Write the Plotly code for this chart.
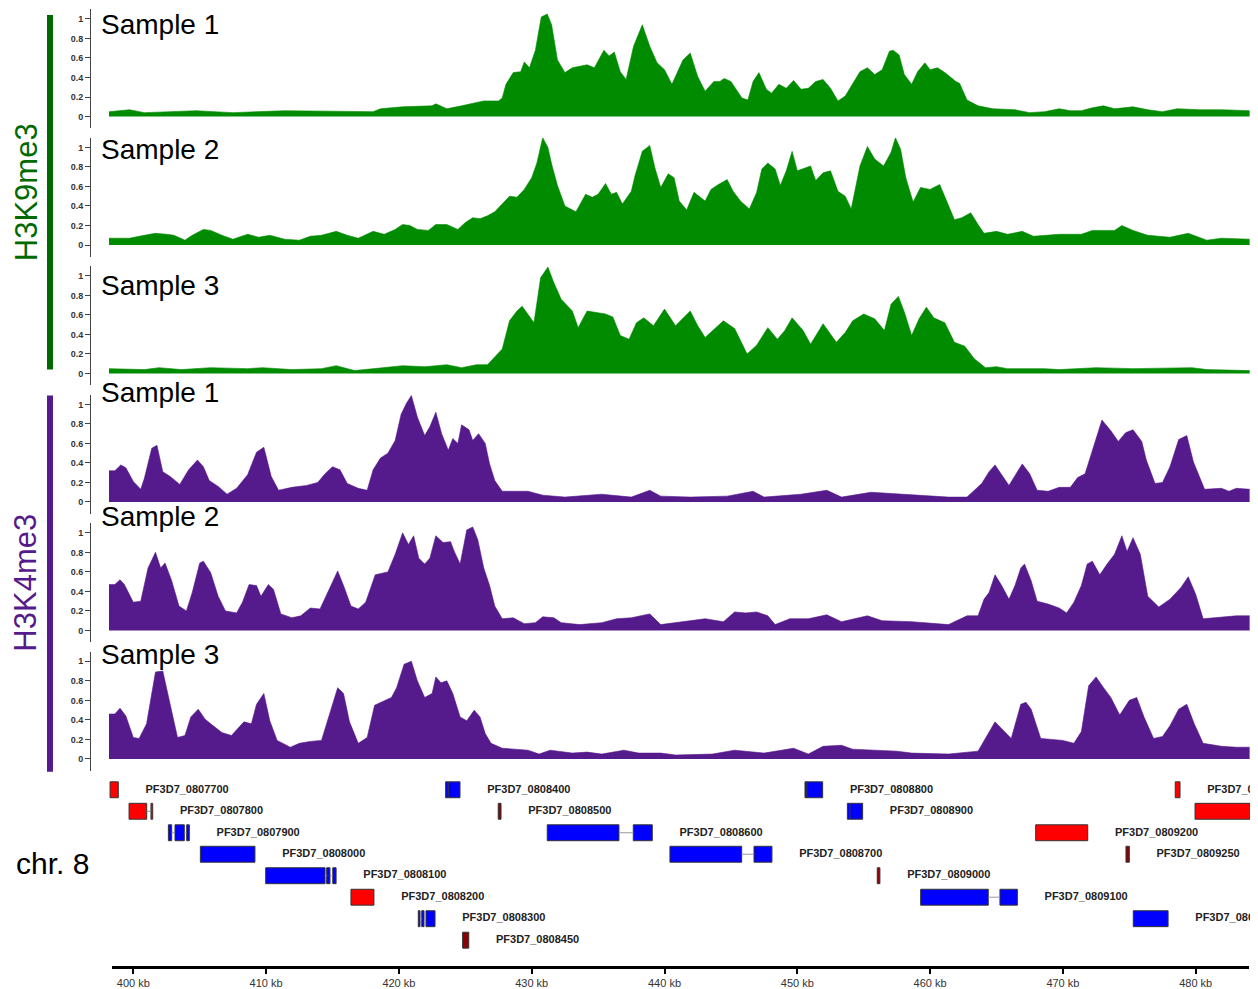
import plotly.graph_objects as go

# ---------------- data (genomic position in kb, normalised signal) ----------------
k9_s1 = [(398.17,0.05),(399.72,0.07),(400.83,0.04),(404.72,0.06),(407.5,0.04),(411.39,0.06),(418.06,0.05),(418.61,0.08),
 (420.28,0.10),(422.5,0.11),(422.78,0.13),(423.61,0.08),(424.72,0.11),(426.39,0.16),(427.5,0.16),(427.78,0.19),(428.06,0.33),
 (428.61,0.45),(429.17,0.46),(429.44,0.56),(429.83,0.50),(430.28,0.68),(430.72,1.02),(431.17,1.05),(431.5,0.94),(431.94,0.58),
 (432.5,0.45),(433.06,0.50),(434.17,0.53),(434.72,0.50),(435.44,0.68),(435.83,0.62),(436.22,0.66),(436.67,0.46),(437.11,0.38),
 (437.67,0.72),(438.33,0.94),(438.89,0.72),(439.44,0.55),(440.0,0.48),(440.56,0.33),(441.39,0.58),(441.94,0.65),(442.5,0.41),
 (443.06,0.26),(443.72,0.36),(444.17,0.36),(444.5,0.39),(445.0,0.36),(445.83,0.19),(446.28,0.17),(446.67,0.36),(447.11,0.45),
 (447.67,0.28),(448.06,0.24),(448.61,0.33),(449.17,0.29),(449.72,0.37),(450.28,0.28),(450.83,0.29),(451.39,0.36),(451.94,0.38),
 (452.5,0.29),(453.06,0.16),(453.61,0.21),(454.17,0.33),(454.72,0.46),(455.28,0.50),(455.83,0.43),(456.39,0.48),(456.94,0.67),
 (457.22,0.68),(457.67,0.63),(458.06,0.43),(458.61,0.33),(459.06,0.46),(459.61,0.55),(460.0,0.48),(460.56,0.50),(461.11,0.45),
 (461.94,0.36),(462.22,0.34),(462.78,0.17),(463.61,0.11),(464.72,0.08),(466.39,0.07),(467.5,0.04),(468.61,0.05),(469.72,0.08),
 (470.56,0.06),(471.39,0.06),(472.22,0.09),(473.06,0.11),(473.89,0.08),(475.28,0.10),(476.39,0.07),(477.5,0.05),(478.61,0.08),
 (480.28,0.07),(481.94,0.07),(484.06,0.06)]

k9_s2 = [(398.17,0.07),(399.72,0.07),(400.83,0.10),(401.67,0.12),(402.5,0.11),(403.06,0.10),(403.89,0.05),(404.44,0.10),
 (405.28,0.16),(405.83,0.15),(406.67,0.10),(407.5,0.06),(408.61,0.11),(409.44,0.08),(410.28,0.10),(411.39,0.06),(412.5,0.05),
 (413.33,0.09),(414.17,0.10),(415.28,0.14),(416.11,0.10),(416.94,0.07),(418.06,0.14),(418.89,0.11),(419.72,0.16),(420.28,0.21),
 (420.83,0.20),(421.39,0.16),(422.22,0.15),(422.78,0.21),(423.61,0.21),(424.44,0.16),(425.0,0.23),(425.56,0.28),(426.11,0.27),
 (426.67,0.30),(427.22,0.34),(427.78,0.42),(428.33,0.50),(428.89,0.49),(429.44,0.57),(430.0,0.69),(430.39,0.84),(430.83,1.10),
 (431.22,1.0),(431.5,0.83),(431.94,0.61),(432.5,0.40),(433.33,0.34),(434.06,0.52),(434.56,0.49),(435.0,0.52),(435.56,0.63),
 (436.0,0.52),(436.39,0.54),(436.83,0.42),(437.5,0.55),(437.78,0.71),(438.33,0.96),(438.89,1.02),(439.28,0.79),(439.72,0.59),
 (440.28,0.73),(440.72,0.69),(441.11,0.45),(441.67,0.36),(442.22,0.54),(443.06,0.45),(443.5,0.57),(444.06,0.62),(444.72,0.67),
 (445.17,0.55),(445.72,0.45),(446.39,0.37),(446.94,0.54),(447.33,0.78),(447.78,0.84),(448.33,0.78),(448.72,0.61),(449.17,0.76),
 (449.61,0.96),(450.0,0.76),(450.56,0.79),(451.0,0.81),(451.39,0.66),(451.94,0.74),(452.5,0.76),(453.06,0.55),(453.61,0.50),
 (454.06,0.37),(454.72,0.81),(455.28,1.01),(455.83,0.88),(456.5,0.81),(457.06,0.95),(457.39,1.10),(457.78,0.98),(458.17,0.69),
 (458.72,0.44),(459.28,0.59),(460.0,0.57),(460.72,0.62),(461.28,0.44),(461.83,0.26),(462.39,0.28),(463.06,0.33),(463.61,0.21),
 (464.06,0.12),(465.0,0.14),(465.83,0.11),(466.94,0.14),(467.78,0.09),(469.72,0.11),(471.39,0.11),(472.22,0.15),(473.89,0.15),
 (474.44,0.20),(475.28,0.15),(476.39,0.10),(478.06,0.08),(479.44,0.12),(480.83,0.05),(481.94,0.07),(484.06,0.06)]

k9_s3 = [(398.17,0.05),(400.83,0.04),(401.94,0.06),(403.61,0.04),(405.83,0.06),(408.61,0.05),(409.72,0.06),(411.94,0.04),
 (414.17,0.05),(415.28,0.08),(416.67,0.03),(418.61,0.06),(420.28,0.08),(421.94,0.07),(423.61,0.09),(424.72,0.06),(425.83,0.09),
 (426.67,0.09),(427.22,0.17),(427.78,0.25),(428.33,0.54),(428.89,0.64),(429.28,0.69),(429.72,0.61),(430.17,0.52),(430.67,0.98),
 (431.22,1.09),(431.67,0.93),(432.22,0.76),(433.06,0.64),(433.5,0.47),(434.17,0.64),(435.0,0.62),(435.56,0.61),(436.11,0.58),
 (436.67,0.39),(437.33,0.35),(437.89,0.52),(438.44,0.57),(439.17,0.49),(440.0,0.66),(440.83,0.49),(441.94,0.64),(442.5,0.49),
 (443.06,0.37),(443.89,0.47),(444.44,0.54),(445.28,0.46),(446.22,0.20),(446.94,0.29),(447.78,0.47),(448.5,0.35),(449.06,0.44),
 (449.61,0.57),(450.44,0.44),(451.0,0.30),(451.94,0.51),(452.94,0.32),(453.61,0.42),(454.17,0.54),(455.0,0.61),(455.83,0.56),
 (456.56,0.44),(457.06,0.71),(457.61,0.79),(458.06,0.63),(458.61,0.39),(459.17,0.56),(459.72,0.68),(460.28,0.57),(461.11,0.52),
 (461.83,0.32),(462.61,0.28),(463.33,0.15),(464.17,0.06),(465.0,0.07),(465.83,0.05),(468.61,0.05),(469.72,0.04),(472.5,0.06),
 (475.28,0.05),(479.72,0.06),(480.83,0.04),(484.06,0.03)]

k4_s1 = [(398.17,0.32),(398.61,0.32),(399.06,0.38),(399.44,0.35),(400.0,0.21),(400.56,0.13),(400.83,0.24),(401.39,0.55),
 (401.78,0.58),(402.22,0.31),(402.78,0.26),(403.5,0.18),(404.17,0.33),(404.83,0.43),(405.28,0.36),(405.72,0.22),(406.39,0.16),
 (407.06,0.08),(407.78,0.14),(408.61,0.28),(409.28,0.51),(409.83,0.56),(410.39,0.26),(410.94,0.12),(411.94,0.15),(413.06,0.17),
 (413.89,0.20),(414.44,0.29),(415.0,0.36),(415.56,0.33),(416.11,0.19),(416.94,0.14),(417.61,0.12),(418.06,0.33),(418.61,0.45),
 (419.17,0.50),(419.72,0.63),(420.17,0.90),(420.56,1.01),(420.94,1.09),(421.39,0.87),(421.94,0.68),(422.33,0.77),(422.78,0.92),
 (423.22,0.70),(423.72,0.53),(424.06,0.65),(424.44,0.60),(424.72,0.79),(425.28,0.74),(425.56,0.63),(426.0,0.70),(426.5,0.60),
 (426.83,0.39),(427.22,0.22),(427.78,0.11),(429.72,0.11),(430.83,0.07),(432.5,0.05),(435.28,0.08),(437.5,0.05),(438.89,0.12),
 (439.72,0.06),(441.94,0.05),(444.72,0.06),(446.67,0.11),(447.5,0.05),(450.28,0.08),(452.22,0.12),(453.33,0.05),(455.56,0.10),
 (458.61,0.07),(461.39,0.05),(462.78,0.05),(463.89,0.19),(464.44,0.31),(464.89,0.38),(465.39,0.28),(465.94,0.17),(466.39,0.27),
 (466.94,0.39),(467.5,0.29),(468.06,0.12),(468.89,0.11),(469.72,0.15),(470.56,0.15),(471.11,0.25),(471.67,0.29),(472.22,0.53),
 (472.94,0.84),(473.61,0.73),(474.17,0.62),(474.72,0.71),(475.28,0.74),(475.94,0.62),(476.28,0.43),(476.94,0.19),(477.5,0.20),
 (478.06,0.36),(478.72,0.64),(479.33,0.68),(479.83,0.41),(480.67,0.13),(481.94,0.14),(482.5,0.11),(483.06,0.14),(484.06,0.13)]

k4_s2 = [(398.17,0.47),(398.61,0.47),(399.0,0.52),(399.33,0.47),(400.0,0.29),(400.56,0.30),(401.11,0.64),(401.67,0.80),
 (402.06,0.64),(402.39,0.69),(402.89,0.51),(403.44,0.25),(404.0,0.20),(404.44,0.39),(405.0,0.69),(405.28,0.71),(405.83,0.59),
 (406.39,0.35),(406.94,0.20),(407.78,0.18),(408.22,0.29),(408.72,0.47),(409.28,0.46),(409.61,0.35),(410.17,0.47),(410.56,0.42),
 (411.11,0.17),(411.94,0.13),(412.61,0.15),(413.33,0.23),(414.06,0.22),(414.56,0.37),(415.0,0.49),(415.39,0.61),(415.83,0.46),
 (416.39,0.25),(416.94,0.22),(417.5,0.29),(418.22,0.57),(419.17,0.60),(419.72,0.78),(420.28,1.0),(420.72,0.88),(421.11,0.97),
 (421.5,0.74),(421.94,0.68),(422.33,0.74),(422.78,0.97),(423.33,0.90),(423.89,0.91),(424.17,0.81),(424.61,0.68),(425.11,1.03),
 (425.56,1.06),(425.94,0.93),(426.39,0.64),(426.83,0.46),(427.22,0.25),(427.78,0.12),(428.61,0.13),(429.44,0.07),(430.28,0.08),
 (430.83,0.14),(431.67,0.13),(432.22,0.08),(433.61,0.06),(435.28,0.08),(436.39,0.12),(437.5,0.13),(438.89,0.17),(439.72,0.06),
 (441.39,0.09),(443.06,0.12),(444.44,0.09),(445.28,0.19),(446.11,0.18),(446.94,0.19),(447.78,0.15),(448.33,0.06),(449.44,0.12),
 (450.83,0.12),(452.22,0.16),(453.33,0.09),(455.28,0.15),(456.39,0.10),(458.61,0.09),(459.72,0.08),(461.39,0.06),(462.78,0.15),
 (463.61,0.15),(464.06,0.32),(464.44,0.39),(464.89,0.57),(465.39,0.46),(465.94,0.32),(466.39,0.46),(466.83,0.64),(467.11,0.68),
 (467.61,0.51),(468.06,0.30),(468.89,0.27),(469.72,0.23),(470.28,0.18),(470.83,0.29),(471.39,0.46),(471.83,0.68),(472.22,0.71),
 (472.78,0.57),(473.33,0.68),(473.89,0.78),(474.44,0.97),(474.83,0.81),(475.28,0.95),(475.83,0.78),(476.39,0.35),(477.22,0.24),
 (478.06,0.32),(478.89,0.44),(479.44,0.55),(480.0,0.37),(480.56,0.12),(481.39,0.13),(481.94,0.14),(483.06,0.15),(484.06,0.15)]

k4_s3 = [(398.17,0.46),(398.61,0.46),(399.0,0.52),(399.44,0.44),(400.0,0.22),(400.44,0.21),(401.0,0.36),(401.67,0.89),
 (402.22,0.90),(402.78,0.55),(403.33,0.22),(403.89,0.24),(404.33,0.43),(404.89,0.51),(405.39,0.41),(405.83,0.36),(406.67,0.27),
 (407.39,0.24),(408.33,0.38),(408.89,0.36),(409.28,0.56),(409.83,0.67),(410.28,0.39),(410.83,0.19),(411.83,0.12),(412.5,0.16),
 (413.33,0.18),(414.17,0.19),(414.61,0.39),(415.39,0.73),(415.83,0.67),(416.28,0.38),(416.94,0.16),(417.61,0.22),(418.17,0.55),
 (418.89,0.60),(419.44,0.63),(419.83,0.73),(420.39,0.97),(420.94,1.0),(421.39,0.80),(421.94,0.63),(422.5,0.67),(422.78,0.84),
 (423.17,0.78),(423.61,0.80),(424.06,0.67),(424.61,0.43),(425.11,0.39),(425.67,0.50),(426.11,0.43),(426.5,0.26),(426.94,0.16),
 (427.78,0.11),(429.72,0.09),(430.56,0.05),(431.39,0.09),(433.06,0.06),(434.17,0.07),(435.28,0.05),(436.94,0.09),(438.06,0.06),
 (439.72,0.06),(440.83,0.04),(443.61,0.05),(445.28,0.09),(447.5,0.06),(449.72,0.11),(450.83,0.05),(451.94,0.13),(453.33,0.14),
 (454.17,0.10),(455.83,0.09),(457.5,0.08),(458.61,0.06),(461.39,0.05),(463.61,0.08),(464.17,0.21),(464.89,0.38),(465.39,0.31),
 (466.11,0.21),(466.83,0.56),(467.22,0.58),(467.61,0.51),(468.33,0.21),(469.17,0.20),(470.0,0.19),(470.83,0.16),(471.39,0.28),
 (471.94,0.75),(472.5,0.84),(473.06,0.73),(473.61,0.63),(474.28,0.45),(475.0,0.60),(475.56,0.63),(476.11,0.43),(476.83,0.21),
 (477.5,0.23),(478.06,0.34),(478.72,0.51),(479.33,0.56),(479.89,0.36),(480.56,0.16),(481.94,0.13),(483.06,0.12),(484.06,0.12)]

track_labels = ["Sample 1", "Sample 2", "Sample 3", "Sample 1", "Sample 2", "Sample 3"]
mark_names = ["H3K9me3", "H3K4me3"]

gene_names = ["PF3D7_0807700", "PF3D7_0808400", "PF3D7_0808800", "PF3D7_0809400",
              "PF3D7_0807800", "PF3D7_0808500", "PF3D7_0808900", "PF3D7_0809500",
              "PF3D7_0807900", "PF3D7_0808600", "PF3D7_0809200",
              "PF3D7_0808000", "PF3D7_0808700", "PF3D7_0809250",
              "PF3D7_0808100", "PF3D7_0809000",
              "PF3D7_0808200", "PF3D7_0809100",
              "PF3D7_0808300", "PF3D7_0809300",
              "PF3D7_0808450"]
gene_rows = [1, 1, 1, 1, 2, 2, 2, 2, 3, 3, 3, 4, 4, 4, 5, 5, 6, 6, 7, 7, 8]
gene_types = ["red", "blue", "blue", "red", "red", "dark", "blue", "red", "blue", "blue", "red",
              "blue", "blue", "dark", "blue", "dark", "red", "blue", "blue", "blue", "dark"]
gene_exons = [
    [(398.25, 398.87)],
    [(423.52, 423.72), (423.72, 424.60)],
    [(450.58, 450.73), (450.73, 451.91)],
    [(478.46, 478.82)],
    [(399.68, 401.01), (401.33, 401.46)],
    [(427.48, 427.69)],
    [(453.77, 453.97), (453.97, 454.92)],
    [(479.95, 486.00)],
    [(402.64, 402.89), (403.14, 403.84), (404.02, 404.22)],
    [(431.17, 436.57), (437.65, 439.08)],
    [(467.95, 471.87)],
    [(405.05, 409.16)],
    [(440.41, 445.81), (446.74, 448.09)],
    [(474.75, 475.00)],
    [(409.97, 414.44), (414.56, 414.81), (415.02, 415.27)],
    [(456.02, 456.22)],
    [(416.39, 418.12)],
    [(459.29, 464.38), (465.26, 466.57)],
    [(421.46, 421.59), (421.72, 421.89), (422.04, 422.72)],
    [(475.30, 477.92)],
    [(424.80, 425.26)],
]
axis_ticks_kb = [400, 410, 420, 430, 440, 450, 460, 470, 480]
signal_ticks = [0, 0.2, 0.4, 0.6, 0.8, 1]

# ---------------- styling / layout ----------------
W, H = 1258, 989
FONT = "Liberation Sans, Arial, sans-serif"
GREEN_FILL, GREEN_DARK = "#008b00", "#006a00"
PURPLE_FILL, PURPLE_DARK = "#551a8b", "#551a8b"
gene_colors = {"red": "#ff0000", "blue": "#0000ff", "dark": "#8b0000"}

def fx(p):
    return p / W

def fy(p):
    return 1 - p / H

PX_PER_KB = 13.28
KB0_PX = 133.3          # pixel of 400 kb
def kb_at(p):
    return 400 + (p - KB0_PX) / PX_PER_KB

fig = go.Figure()
tracks = [k9_s1, k9_s2, k9_s3, k4_s1, k4_s2, k4_s3]
fills = [GREEN_FILL] * 3 + [PURPLE_FILL] * 3
label_y = [25, 150, 287, 394, 519, 657]

layout = dict(
    width=W, height=H, margin=dict(l=0, r=0, t=0, b=0),
    paper_bgcolor="white", plot_bgcolor="white", showlegend=False,
    barmode="overlay",
    xaxis=dict(domain=[fx(91), fx(1250)], range=[kb_at(91), kb_at(1250)], visible=False,
               fixedrange=True),
)

for k, (tr, col) in enumerate(zip(tracks, fills)):
    xs = [p[0] for p in tr]
    ys = [p[1] for p in tr]
    yname = "y" if k == 0 else f"y{k+1}"
    fig.add_trace(go.Scatter(x=xs, y=ys, mode="lines", fill="tozeroy", fillcolor=col,
                             line=dict(color=col, width=0.6), xaxis="x", yaxis=yname,
                             hoverinfo="skip"))
    top = 9.2 + 129 * k
    bot = 128.8 + 129 * k
    layout["yaxis" if k == 0 else f"yaxis{k+1}"] = dict(
        domain=[fy(bot), fy(top)], range=[-0.12, 1.1], anchor="x",
        showline=True, linecolor="#444", linewidth=1, ticks="outside", ticklen=5,
        tickcolor="#444", tickwidth=1, tickvals=signal_ticks,
        ticktext=[("%g" % v) for v in signal_ticks],
        tickfont=dict(size=9, color="#333", family=FONT, weight="bold"),
        showgrid=False, zeroline=False, fixedrange=True)

# ---------------- genes ----------------
bar_y, bar_base, bar_len, bar_col = [], [], [], []
intron_x, intron_y = [], []
lab_x, lab_y = [], []
for name, row, typ, ex in zip(gene_names, gene_rows, gene_types, gene_exons):
    for s, e in ex:
        bar_y.append(row)
        bar_base.append(s)
        bar_len.append(e - s)
        bar_col.append(gene_colors[typ])
    for (s1, e1), (s2, e2) in zip(ex[:-1], ex[1:]):
        if s2 > e1:
            intron_x += [e1, s2, None]
            intron_y += [row, row, None]
    lab_x.append(ex[-1][1] + 2.05)
    lab_y.append(row)

fig.add_trace(go.Scatter(x=intron_x, y=intron_y, mode="lines", line=dict(color="#999", width=1),
                         xaxis="x", yaxis="y7", hoverinfo="skip"))
fig.add_trace(go.Bar(y=bar_y, x=bar_len, base=bar_base, orientation="h", width=0.74,
                     marker=dict(color=bar_col, line=dict(color="#333", width=1)),
                     xaxis="x", yaxis="y7", hoverinfo="skip"))
fig.add_trace(go.Scatter(x=lab_x, y=lab_y, mode="text", text=gene_names,
                         textposition="middle right",
                         textfont=dict(size=11, color="#222", family=FONT, weight="bold"),
                         xaxis="x", yaxis="y7", hoverinfo="skip", cliponaxis=True))
layout["yaxis7"] = dict(domain=[fy(954.8), fy(782.2)], range=[8.5, 0.5], anchor="x",
                        visible=False, fixedrange=True)

# ---------------- genome axis ----------------
fig.add_trace(go.Scatter(x=[axis_ticks_kb[0]], y=[0], mode="markers", marker=dict(opacity=0),
                         xaxis="x2", yaxis="y8", hoverinfo="skip"))
layout["xaxis2"] = dict(domain=[fx(112), fx(1249)], range=[kb_at(112), kb_at(1249)], anchor="y8",
                        showline=True, linecolor="black", linewidth=3, ticks="outside",
                        ticklen=5, tickwidth=1.5, tickcolor="black", tickvals=axis_ticks_kb,
                        ticktext=[f"{v} kb" for v in axis_ticks_kb],
                        tickfont=dict(size=11, color="#333", family=FONT),
                        showgrid=False, zeroline=False, fixedrange=True)
layout["yaxis8"] = dict(domain=[fy(970), fy(960)], visible=False, fixedrange=True)

annotations = []
for k, txt in enumerate(track_labels):
    annotations.append(dict(x=fx(99), y=fy(label_y[k]), xref="paper", yref="paper", text=txt,
                            showarrow=False, xanchor="left", yanchor="middle",
                            font=dict(size=28, color="black", family=FONT)))
annotations.append(dict(x=fx(26), y=fy(193), xref="paper", yref="paper", text=mark_names[0],
                        textangle=-90, showarrow=False, xanchor="center", yanchor="middle",
                        font=dict(size=31, color=GREEN_DARK, family=FONT)))
annotations.append(dict(x=fx(26), y=fy(585), xref="paper", yref="paper", text=mark_names[1],
                        textangle=-90, showarrow=False, xanchor="center", yanchor="middle",
                        font=dict(size=31, color=PURPLE_DARK, family=FONT)))
annotations.append(dict(x=fx(14), y=fy(867), xref="paper", yref="paper", text="chr. 8",
                        showarrow=False, xanchor="left", yanchor="middle",
                        font=dict(size=30, color="black", family=FONT)))
annotations.append(dict(x=kb_at(1252), y=fy(970), xref="x2", yref="paper", text="",
                        showarrow=True, ax=-8, ay=0, arrowhead=2, arrowsize=0.8,
                        arrowwidth=2, arrowcolor="black"))
layout["annotations"] = annotations
layout["shapes"] = [
    dict(type="rect", xref="paper", yref="paper", x0=fx(47), x1=fx(53), y0=fy(371), y1=fy(15),
         fillcolor=GREEN_DARK, line=dict(width=0)),
    dict(type="rect", xref="paper", yref="paper", x0=fx(47), x1=fx(53), y0=fy(775), y1=fy(397),
         fillcolor=PURPLE_DARK, line=dict(width=0)),
]

fig.update_layout(**layout)
fig.write_html("out.html", config={"displayModeBar": False},
               post_script="document.body.style.margin='0px';document.body.style.overflow='hidden';")
